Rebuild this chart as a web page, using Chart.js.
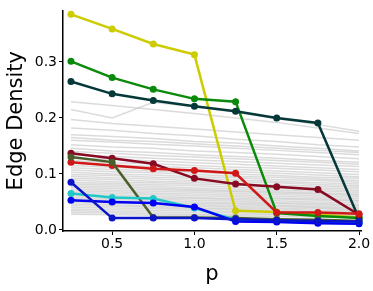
<!DOCTYPE html>
<html lang="en">
<head>
    <meta charset="UTF-8" />
    <title>Edge Density</title>
    <script src="https://cdn.jsdelivr.net/npm/chart.js"></script>
    <style>
        html, body { margin: 0; padding: 0; background: #fff; }
        #wrap { width: 373px; height: 291px; }
    </style>
</head>
<body>
<div id="wrap"><canvas id="densityChart" width="373" height="291"></canvas></div>

<script>
    // x values (p) and tick labels
    const pValues = [0.25, 0.5, 0.75, 1.0, 1.25, 1.5, 1.75, 2.0];
    const xTicks = [0.5, 1.0, 1.5, 2.0];
    const yTicks = [0.0, 0.1, 0.2, 0.3];

    // highlighted series
    const yellowSeries = [0.385, 0.359, 0.332, 0.313, 0.034, 0.032, 0.027, 0.022];
    const greenSeries = [0.301, 0.272, 0.251, 0.234, 0.229, 0.030, 0.025, 0.021];
    const tealSeries = [0.265, 0.243, 0.231, 0.221, 0.212, 0.200, 0.191, 0.020];
    const maroonSeries = [0.137, 0.128, 0.118, 0.092, 0.082, 0.077, 0.072, 0.027];
    const redSeries = [0.121, 0.115, 0.109, 0.106, 0.101, 0.031, 0.031, 0.029];
    const oliveSeries = [0.130, 0.121, 0.022, 0.022, 0.021, 0.019, 0.018, 0.016];
    const cyanSeries = [0.065, 0.058, 0.056, 0.039, 0.018, 0.015, 0.013, 0.012];
    const blueSeries = [0.053, 0.050, 0.048, 0.041, 0.015, 0.014, 0.012, 0.011];
    const navySeries = [0.085, 0.021, 0.021, 0.021, 0.019, 0.017, 0.016, 0.015];

    // background (gray) runs
    const grayRuns = [
        [0.229, 0.222, 0.215, 0.208, 0.200, 0.192, 0.182, 0.172],
        [0.215, 0.200, 0.228, 0.220, 0.210, 0.199, 0.188, 0.176],
        [0.197, 0.190, 0.185, 0.180, 0.175, 0.170, 0.165, 0.160],
        [0.182, 0.178, 0.172, 0.168, 0.162, 0.158, 0.152, 0.148],
        [0.170, 0.167, 0.163, 0.158, 0.155, 0.150, 0.146, 0.141],
        [0.165, 0.160, 0.158, 0.154, 0.150, 0.146, 0.142, 0.138],
        [0.160, 0.157, 0.153, 0.150, 0.146, 0.142, 0.138, 0.134],
        [0.152, 0.148, 0.146, 0.141, 0.138, 0.135, 0.131, 0.127],
        [0.146, 0.141, 0.138, 0.134, 0.131, 0.128, 0.124, 0.121],
        [0.140, 0.137, 0.133, 0.130, 0.127, 0.124, 0.121, 0.117],
        [0.134, 0.131, 0.128, 0.125, 0.122, 0.119, 0.116, 0.113],
        [0.128, 0.126, 0.123, 0.120, 0.117, 0.114, 0.111, 0.108],
        [0.124, 0.120, 0.118, 0.115, 0.112, 0.110, 0.107, 0.104],
        [0.119, 0.116, 0.113, 0.111, 0.108, 0.105, 0.102, 0.099],
        [0.115, 0.112, 0.109, 0.106, 0.104, 0.101, 0.098, 0.095],
        [0.111, 0.108, 0.105, 0.103, 0.100, 0.097, 0.094, 0.092],
        [0.107, 0.104, 0.102, 0.099, 0.096, 0.094, 0.091, 0.088],
        [0.103, 0.100, 0.098, 0.095, 0.093, 0.090, 0.088, 0.085],
        [0.099, 0.097, 0.094, 0.092, 0.089, 0.087, 0.084, 0.082],
        [0.096, 0.093, 0.091, 0.088, 0.086, 0.084, 0.081, 0.079],
        [0.092, 0.090, 0.087, 0.085, 0.083, 0.080, 0.078, 0.076],
        [0.089, 0.086, 0.084, 0.082, 0.080, 0.077, 0.075, 0.073],
        [0.085, 0.083, 0.081, 0.079, 0.076, 0.074, 0.072, 0.070],
        [0.082, 0.080, 0.078, 0.075, 0.073, 0.071, 0.069, 0.067],
        [0.079, 0.077, 0.075, 0.072, 0.070, 0.068, 0.066, 0.064],
        [0.076, 0.074, 0.072, 0.070, 0.068, 0.066, 0.064, 0.062],
        [0.073, 0.071, 0.069, 0.067, 0.065, 0.063, 0.061, 0.059],
        [0.070, 0.068, 0.066, 0.064, 0.062, 0.060, 0.058, 0.056],
        [0.067, 0.065, 0.063, 0.061, 0.059, 0.057, 0.055, 0.053],
        [0.064, 0.062, 0.060, 0.058, 0.056, 0.055, 0.053, 0.051],
        [0.061, 0.059, 0.057, 0.056, 0.054, 0.052, 0.050, 0.048],
        [0.058, 0.056, 0.055, 0.053, 0.051, 0.049, 0.047, 0.045],
        [0.055, 0.054, 0.052, 0.050, 0.048, 0.047, 0.045, 0.043],
        [0.052, 0.051, 0.049, 0.047, 0.046, 0.044, 0.042, 0.040],
        [0.049, 0.048, 0.046, 0.045, 0.043, 0.042, 0.040, 0.038],
        [0.046, 0.045, 0.043, 0.042, 0.041, 0.039, 0.038, 0.036],
        [0.043, 0.042, 0.041, 0.039, 0.038, 0.037, 0.035, 0.034],
        [0.040, 0.039, 0.038, 0.037, 0.036, 0.034, 0.033, 0.032],
        [0.037, 0.036, 0.035, 0.034, 0.033, 0.032, 0.031, 0.030],
        [0.034, 0.033, 0.032, 0.031, 0.030, 0.029, 0.028, 0.027],
        [0.031, 0.030, 0.029, 0.028, 0.027, 0.027, 0.026, 0.025],
        [0.028, 0.027, 0.026, 0.026, 0.025, 0.024, 0.023, 0.022]
    ];

    function coloredSet(values, color) {
        return {
            data: values.map((v, i) => ({ x: pValues[i], y: v })),
            borderColor: color,
            backgroundColor: color,
            borderWidth: 2.5,
            pointRadius: 3.5,
            pointBorderWidth: 0,
            clip: false,
            order: 0
        };
    }

    const datasets = [
        coloredSet(navySeries, '#0a14c8'),
        coloredSet(blueSeries, '#0000f5'),
        coloredSet(cyanSeries, '#22c8c8'),
        coloredSet(oliveSeries, '#4a5e2a'),
        coloredSet(redSeries, '#d01818'),
        coloredSet(maroonSeries, '#880a22'),
        coloredSet(tealSeries, '#053838'),
        coloredSet(greenSeries, '#0a8a0a'),
        coloredSet(yellowSeries, '#cccc00')
    ];

    grayRuns.forEach(run => {
        datasets.push({
            data: run.map((v, i) => ({ x: pValues[i], y: v })),
            borderColor: 'rgba(190, 190, 190, 0.55)',
            borderWidth: 1.5,
            pointRadius: 0,
            order: 1
        });
    });

    const ctx = document.getElementById('densityChart').getContext('2d');
    new Chart(ctx, {
        type: 'line',
        data: { datasets: datasets },
        options: {
            responsive: false,
            animation: false,
            layout: { padding: { top: 0, right: 12, left: 0, bottom: 0 } },
            plugins: { legend: { display: false }, tooltip: { enabled: false } },
            scales: {
                x: {
                    type: 'linear',
                    min: 0.2015,
                    max: 2.012,
                    afterBuildTicks: s => { s.ticks = xTicks.map(v => ({ value: v })); },
                    afterFit: s => { s.height = 60; },
                    border: { color: '#000', width: 1.5 },
                    grid: { drawOnChartArea: false, tickLength: 4, color: '#000' },
                    ticks: {
                        color: '#000',
                        font: { family: 'DejaVu Sans', size: 14 },
                        padding: 1,
                        maxRotation: 0,
                        callback: v => v.toFixed(1)
                    },
                    title: {
                        display: true,
                        text: 'p',
                        color: '#000',
                        font: { family: 'DejaVu Sans', size: 21 },
                        padding: { top: 2 }
                    }
                },
                y: {
                    min: -0.002,
                    max: 0.392,
                    afterBuildTicks: s => { s.ticks = yTicks.map(v => ({ value: v })); },
                    afterFit: s => { s.width = 63; },
                    border: { color: '#000', width: 1.5 },
                    grid: { drawOnChartArea: false, tickLength: 4, color: '#000' },
                    ticks: {
                        color: '#000',
                        font: { family: 'DejaVu Sans', size: 14 },
                        padding: 2,
                        callback: v => v.toFixed(1)
                    },
                    title: {
                        display: true,
                        text: 'Edge Density',
                        color: '#000',
                        font: { family: 'DejaVu Sans', size: 21 },
                        padding: { bottom: 2 }
                    }
                }
            }
        }
    });
</script>
</body>
</html>
